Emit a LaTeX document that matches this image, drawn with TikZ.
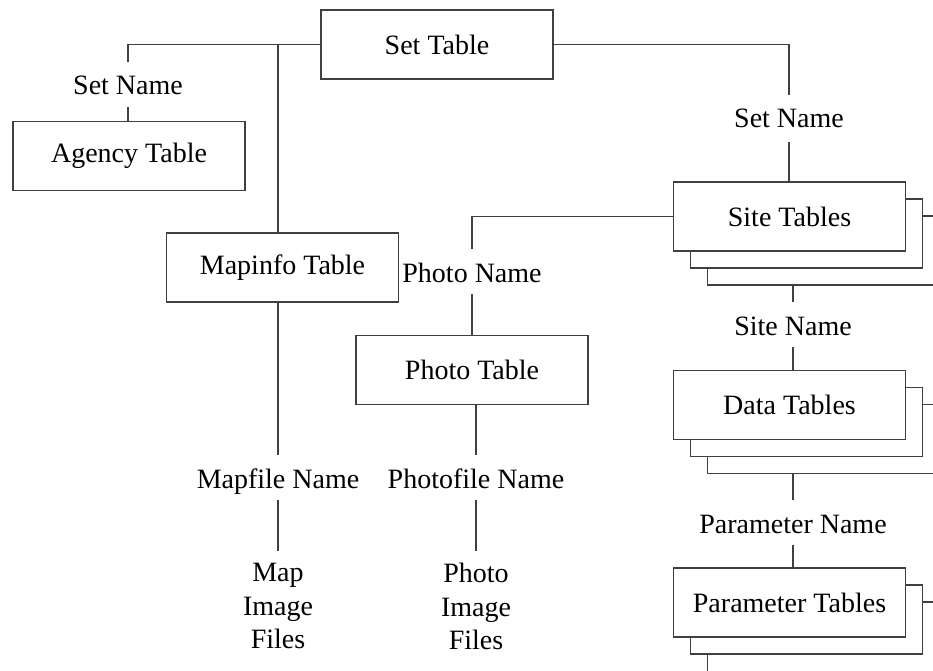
\documentclass[tikz,border=0pt]{standalone}
\usepackage{fontspec}
\setmainfont{Liberation Serif}
\begin{document}
\begin{tikzpicture}[
        x=1pt, y=-1pt,
        % Table boxes
        tbox/.style={draw=black!75, line width=1.1pt, fill=white, minimum width=232pt, minimum height=69pt, inner sep=0pt, font=\fontsize{28}{34}\selectfont},
        % Key names on the links
        keyname/.style={inner sep=0pt, text height=33pt, text depth=12pt, anchor=base, font=\fontsize{28}{34}\selectfont},
        % File lists
        filelist/.style={align=center, inner xsep=0pt, inner ysep=12pt, anchor=north, font=\fontsize{28}{33.5}\selectfont},
        % Links
        wire/.style={draw=black!75, line width=1.1pt}
    ]

    % Page frame
    \path[use as bounding box, clip] (0,0) rectangle (933,671);

    % Top table
    \node[tbox] (settab) at (437, 44.5) {Set Table};

    % Left branch
    \node[keyname] (setL) at (128, 95) {Set Name};
    \node[tbox] (agency) at (129, 156) {Agency Table};
    \node[tbox] (mapinfo) at (282.5, 267.5) {Mapinfo Table};
    \node[keyname] (mapfile) at (278, 488) {Mapfile Name};
    \node[filelist] (mapfiles) at (278, 551) {Map\\Image\\Files};

    % Photo branch
    \node[keyname] (photoname) at (472, 282) {Photo Name};
    \node[tbox] (phototab) at (472, 370) {Photo Table};
    \node[keyname] (photofile) at (476, 488) {Photofile Name};
    \node[filelist] (photofiles) at (476, 551) {Photo\\Image\\Files};

    % Right branch - stacked tables
    \node[keyname, text depth=14pt] (setR) at (789, 128) {Set Name};
    \node[tbox] (site3) at (823.5, 250.5) {};
    \node[tbox] (site2) at (806.5, 233.5) {};
    \node[tbox] (site) at (789.5, 216.5) {Site Tables};
    \node[keyname] (sitename) at (793, 335) {Site Name};
    \node[tbox] (data3) at (823.5, 439) {};
    \node[tbox] (data2) at (806.5, 422) {};
    \node[tbox] (data) at (789.5, 405) {Data Tables};
    \node[keyname] (paramname) at (793, 533) {Parameter Name};
    \node[tbox, minimum height=80pt] (param3) at (823.5, 642) {};
    \node[tbox] (param2) at (806.5, 619.5) {};
    \node[tbox] (param) at (789.5, 602.5) {Parameter Tables};

    % Links on the left
    \draw[wire] (settab.west) -| (setL.north);
    \draw[wire] (setL.south) -- (setL.south |- agency.north);
    \draw[wire] (mapfile.north |- settab.west) -- (mapfile.north |- mapinfo.north);
    \draw[wire] (mapfile.north |- mapinfo.south) -- (mapfile.north);
    \draw[wire] (mapfile.south) -- (mapfiles.north);

    % Links to the photos
    \draw[wire] (site.west) -| (photoname.north);
    \draw[wire] (photoname.south) -- (photoname.south |- phototab.north);
    \draw[wire] (photofile.north |- phototab.south) -- (photofile.north);
    \draw[wire] (photofile.south) -- (photofiles.north);

    % Links on the right
    \draw[wire] (settab.east) -| (setR.north);
    \draw[wire] (setR.south) -- (setR.south |- site.north);
    \draw[wire] (sitename.north |- site3.south) -- (sitename.north);
    \draw[wire] (sitename.south) -- (sitename.south |- data.north);
    \draw[wire] (paramname.north |- data3.south) -- (paramname.north);
    \draw[wire] (paramname.south) -- (paramname.south |- param.north);

\end{tikzpicture}
\end{document}
